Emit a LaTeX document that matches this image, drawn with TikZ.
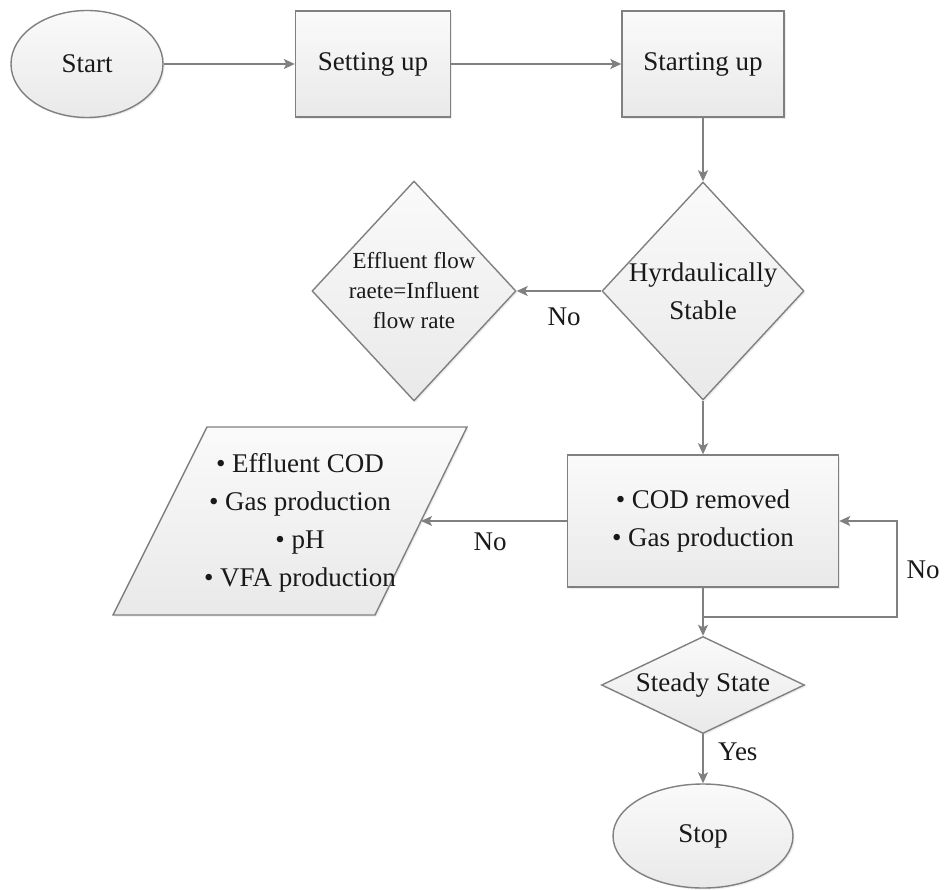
\documentclass[tikz,border=0pt]{standalone}
\usepackage{fontspec}
\setmainfont{Liberation Serif}
\usetikzlibrary{shapes.geometric,arrows.meta,shadows}

\definecolor{edgegray}{RGB}{128,128,128}
\definecolor{filltop}{RGB}{250,250,250}
\definecolor{fillbot}{RGB}{233,233,233}

\begin{document}
\begin{tikzpicture}[x=1pt,y=-1pt,
  every node/.style={font=\fontsize{27}{38}\selectfont, text=black!90},
  flowshape/.style={draw=edgegray, line width=1.4pt,
    top color=filltop, bottom color=fillbot,
    drop shadow={shadow xshift=1.6pt, shadow yshift=-1.6pt, opacity=0.15}},
  procbox/.style={flowshape, rectangle, inner sep=0pt},
  termnode/.style={flowshape, ellipse, inner sep=0pt},
  decision/.style={flowshape, diamond, align=center},
  lbl/.style={inner sep=0pt},
  link/.style={draw=edgegray, line width=1.4pt,
    -{Stealth[length=11pt,width=10pt,inset=2.5pt]}}]

\useasboundingbox (0,0) rectangle (947,890);

% top row
\node[termnode, minimum width=152pt, minimum height=107pt] (start) at (87,64) {Start};
\node[procbox, minimum width=155pt, minimum height=106pt] (setup) at (373,64) {Setting up};
\node[procbox, minimum width=162pt, minimum height=106pt] (startup) at (703,64) {Starting up};

% hydraulic stability check
\node[decision, minimum width=202pt, minimum height=218pt, inner sep=-30pt] (hyd) at (703,291) {Hyrdaulically\\Stable};
\node[decision, font=\fontsize{23}{30}\selectfont, minimum width=204pt, minimum height=220pt, inner sep=-40pt] (eff) at (414,291) {Effluent flow\\raete=Influent\\flow rate};

% monitoring box
\node[procbox, minimum width=271pt, minimum height=132pt, align=center] (cod) at (703,521) {• COD removed\\• Gas production};

% measured parameters (parallelogram)
\path[flowshape] (207,427) -- (467,427) -- (375,615) -- (113,615) -- cycle;
\node[lbl, align=center] (data) at (300,523) {• Effluent COD\\• Gas production\\• pH\\• VFA production};
\coordinate (dataR) at (421,521);

% steady state check and end
\node[decision, aspect=2.1, minimum width=203pt, minimum height=97pt, inner sep=0pt] (ss) at (703,685) {Steady State};
\node[termnode, minimum width=180pt, minimum height=104pt] (stop) at (703,836) {Stop};

% connectors
\draw[link] (start.east) -- (setup.west);
\draw[link] (setup.east) -- (startup.west);
\draw[link] (startup.south) -- (hyd.north);
\draw[link] (hyd.west) -- (eff.east);
\draw[link] (hyd.south) -- (cod.north);
\draw[link] (cod.west) -- (dataR);
\draw[link] (cod.south) -- (ss.north);
\coordinate (loop) at (897,617);
\draw[link] (cod.south |- loop) -- (loop) |- (cod.east);
\draw[link] (ss.south) -- (stop.north);

% branch labels
\node[lbl] (no1) at (564,317) {No};
\node[lbl] (no2) at (490,542) {No};
\node[lbl] (no3) at (923,570) {No};
\node[lbl, anchor=west] (yes) at (718,752) {Yes};

\end{tikzpicture}
\end{document}
